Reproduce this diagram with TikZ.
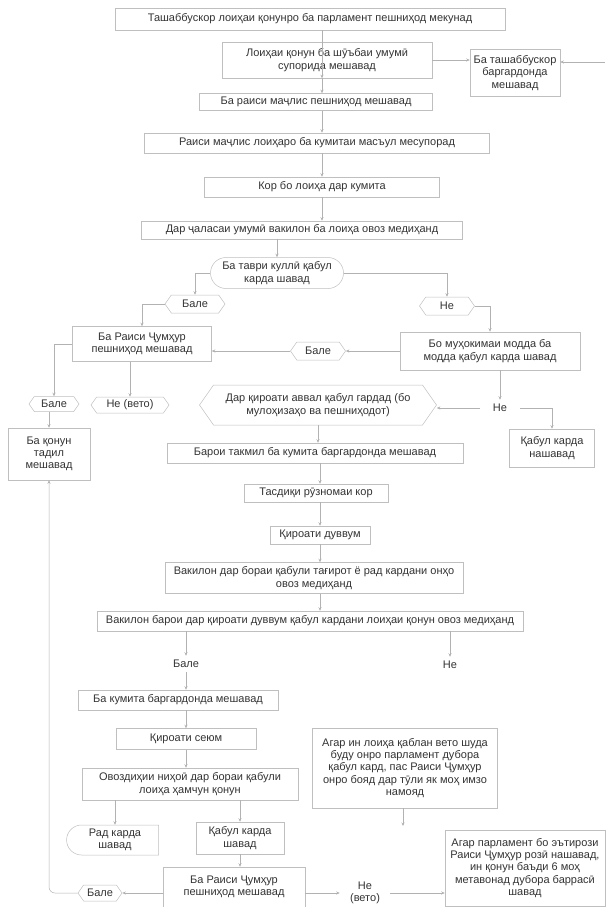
\documentclass[tikz,border=0pt]{standalone}
\usepackage{fontspec}
\setmainfont{Liberation Sans}
\usetikzlibrary{arrows.meta,shapes.symbols,shapes.misc}

\begin{document}
\begin{tikzpicture}[
  x=1pt,y=-1pt,
  font=\fontsize{11}{12.3}\selectfont,
  text=black!80,
  box/.style={draw=gray!50,line width=0.5pt,align=center,inner sep=2pt},
  choice/.style={draw=gray!50,line width=0.5pt,signal,signal to=west and east,
                 signal pointer angle=110,align=center,inner sep=2pt},
  oval/.style={draw=gray!50,line width=0.5pt,rounded rectangle,
               align=center,inner sep=2pt},
  arr/.style={-{Stealth[length=3.5pt,width=3pt]},gray!60,line width=0.5pt},
]
  \useasboundingbox (0,0) rectangle (607,907);
  \coordinate (spine) at (322,0);

  % upper part: submission and committee
  \node[box,minimum width=390,minimum height=22] (n1) at (310,19)
    {Ташаббускор лоиҳаи қонунро ба парламент пешниҳод мекунад};
  \node[box,minimum width=210,minimum height=36] (n2) at (327,60)
    {Лоиҳаи қонун ба шӯъбаи умумӣ\\супорида мешавад};
  \node[box,minimum width=90,minimum height=47] (n3) at (515,73)
    {Ба ташаббускор\\баргардонда\\мешавад};
  \node[box,minimum width=233,minimum height=17] (n4) at (316,102)
    {Ба раиси маҷлис пешниҳод мешавад};
  \node[box,minimum width=345,minimum height=20] (n5) at (317,143)
    {Раиси маҷлис лоиҳаро ба кумитаи масъул месупорад};
  \node[box,minimum width=235,minimum height=20] (n6) at (322,187)
    {Кор бо лоиҳа дар кумита};
  \node[box,minimum width=321,minimum height=18] (n7) at (302,230)
    {Дар ҷаласаи умумӣ вакилон ба лоиҳа овоз медиҳанд};
  \coordinate (rin) at (605,62);

  % first reading
  \node[oval,minimum width=137,minimum height=31] (d1) at (277,273)
    {Ба таври куллӣ қабул\\карда шавад};
  \node[choice,minimum width=60,minimum height=18] (b1) at (195,304) {Бале};
  \node[choice,minimum width=55,minimum height=18] (ne1) at (447,306) {Не};
  \node[box,minimum width=139,minimum height=35] (p1) at (142,344)
    {Ба Раиси Ҷумҳур\\пешниҳод мешавад};
  \node[choice,minimum width=55,minimum height=18] (b2) at (318,351) {Бале};
  \node[box,minimum width=180,minimum height=38] (m1) at (490,351)
    {Бо муҳокимаи модда ба\\модда қабул карда шавад};
  \node[choice,minimum width=50,minimum height=15] (b3) at (54,404) {Бале};
  \node[choice,minimum width=78,minimum height=16] (nv) at (130,405) {Не (вето)};
  \node[choice,minimum width=237,minimum height=40] (d2) at (318,405)
    {Дар қироати аввал қабул гардад (бо\\мулоҳизаҳо ва пешниҳодот)};
  \node[box,draw=none,minimum width=40,minimum height=16] (ne2) at (500,408) {Не};
  \node[box,minimum width=85,minimum height=38] (kn) at (552,448)
    {Қабул карда\\нашавад};
  \node[box,minimum width=82,minimum height=52] (qt) at (49,454)
    {Ба қонун\\тадил\\мешавад};

  % second reading
  \node[box,minimum width=296,minimum height=20] (n8) at (315,453)
    {Барои такмил ба кумита баргардонда мешавад};
  \node[box,minimum width=144,minimum height=18] (n9) at (316,493)
    {Тасдиқи рӯзномаи кор};
  \node[box,minimum width=100,minimum height=18] (n10) at (320,535)
    {Қироати дуввум};
  \node[box,minimum width=298,minimum height=31] (n11) at (314,578)
    {Вакилон дар бораи қабули тағирот ё рад кардани онҳо\\овоз медиҳанд};
  \node[box,minimum width=426,minimum height=20] (n12) at (310,621)
    {Вакилон барои дар қироати дуввум қабул кардани лоиҳаи қонун овоз медиҳанд};
  \node[box,draw=none,minimum width=45,minimum height=16] (b4) at (186,664) {Бале};
  \node[box,draw=none,minimum width=30,minimum height=16] (ne3) at (450,665) {Не};

  % third reading
  \node[box,minimum width=200,minimum height=20] (n13) at (178,700)
    {Ба кумита баргардонда мешавад};
  \node[box,minimum width=140,minimum height=21] (n14) at (186,739)
    {Қироати сеюм};
  \node[box,minimum width=216,minimum height=32] (n15) at (190,784)
    {Овоздиҳии ниҳоӣ дар бораи қабули\\лоиҳа ҳамчун қонун};
  \node[box,minimum width=185,minimum height=80] (vt) at (405,768)
    {Агар ин лоиҳа қаблан вето шуда\\буду онро парламент дубора\\қабул кард, пас Раиси Ҷумҳур\\онро бояд дар тӯли як моҳ имзо\\намояд};
  \coordinate (vtend) at (403,826);
  \node[oval,rounded rectangle east arc=none,minimum width=96,minimum height=30]
    (rad) at (115,840) {Рад карда\\шавад};
  \node[box,minimum width=88,minimum height=32] (qk) at (240,838)
    {Қабул карда\\шавад};
  \node[box,minimum width=142,minimum height=40] (p2) at (234,887)
    {Ба Раиси Ҷумҳур\\пешниҳод мешавад};
  \node[choice,minimum width=44,minimum height=16] (b5) at (100,893) {Бале};
  \node[box,draw=none,minimum width=50,minimum height=28] (ne4) at (365,893)
    {Не\\(вето)};
  \node[box,minimum width=160,minimum height=76] (ae) at (525,868)
    {Агар парламент бо эътирози\\Раиси Ҷумҳур розӣ нашавад,\\ин қонун баъди 6 моҳ\\метавонад дубора баррасӣ\\шавад};

  \draw[arr] (n1.south -| spine) -- (n2.south -| spine |- n2.north);
  \draw[arr] (n2.east) -- (n2.east -| n3.west);
  \draw[arr] (rin) -- (rin -| n3.east);
  \draw[arr] (n2.south -| spine) -- (n4.north -| spine);
  \draw[arr] (n4.south -| spine) -- (n5.north -| spine);
  \draw[arr] (n5.south -| spine) -- (n6.north -| spine);
  \draw[arr] (n6.south -| spine) -- (n7.north -| spine);
  \draw[arr] (n7.south -| d1) -- (d1.north);
  \draw[arr] (d1.west) -| (b1.north);
  \draw[arr] (d1.east) -| (ne1.north);
  \draw[arr] (b1.west) -| (p1.north);
  \draw[arr] (ne1.east) -| (m1.north);
  \draw[arr] (m1.west) -- (m1.west -| b2.east);
  \draw[arr] (b2.west) -- (b2.west -| p1.east);
  \draw[arr] (m1.south -| ne2) -- (ne2.north);
  \draw[arr] (ne2.west) -- (ne2.west -| d2.east);
  \draw[arr] (ne2.east) -| (kn.north);
  \draw[arr] (p1.west) -| (b3.north);
  \draw[arr] (p1.south -| nv) -- (nv.north);
  \draw[arr] (b3.south -| qt) -- (qt.north);
  \draw[arr] (d2.south) -- (d2.south |- n8.north);
  \draw[arr] (n8.south -| n10) -- (n9.north -| n10);
  \draw[arr] (n9.south -| n10) -- (n10.north);
  \draw[arr] (n10.south) -- (n10.south |- n11.north);
  \draw[arr] (n11.south -| n10) -- (n12.north -| n10);
  \draw[arr] (n12.south -| b4) -- (b4.north);
  \draw[arr] (n12.south -| ne3) -- (ne3.north);
  \draw[arr] (b4.south) -- (b4.south |- n13.north);
  \draw[arr] (n13.south -| b4) -- (n14.north -| b4);
  \draw[arr] (n14.south -| b4) -- (n15.north -| b4);
  \draw[arr] (n15.south -| rad) -- (rad.north);
  \draw[arr] (n15.south -| qk) -- (qk.north);
  \draw[arr] (vt.south -| vtend) -- (vtend);
  \draw[arr] (qk.south) -- (qk.south |- p2.north);
  \draw[arr] (p2.west |- b5) -- (b5.east);
  \draw[arr,rounded corners=6pt] (b5.west) -| (qt.south);
  \draw[arr] (p2.east |- ne4) -- (ne4.west);
  \draw[arr] (ne4.east) -- (ne4.east -| ae.west);
\end{tikzpicture}
\end{document}
